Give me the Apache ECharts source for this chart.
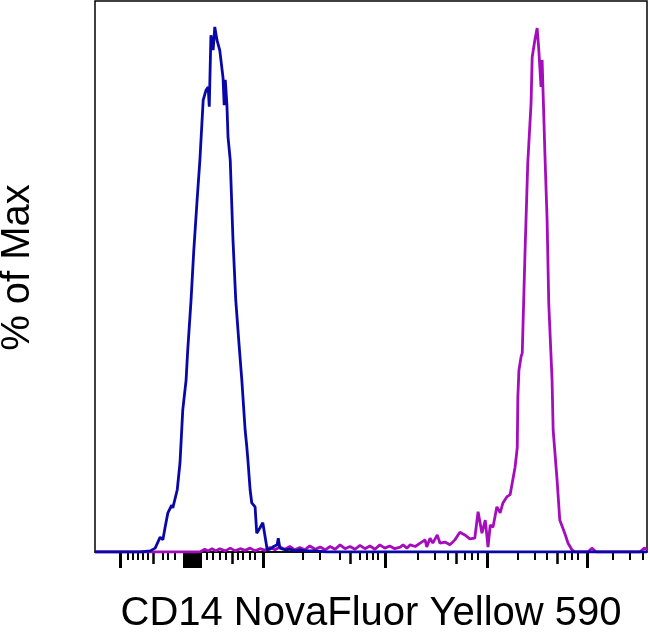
<!DOCTYPE html>
<html>
<head>
<meta charset="utf-8">
<script src="https://cdn.jsdelivr.net/npm/echarts@6/dist/echarts.min.js"></script>
<style>html,body{margin:0;padding:0;background:#fff}#c{width:650px;height:633px}</style>
</head>
<body>
<div id="c"></div>
<script>
// x in display channel units (0-1000, biexponential display scale), y in % of Max
const blueX = [0,45,82,100,109,118,123,127,132,139,141,149,154,159,165,168,174,179,185,190,196,201,205,207,210,214,217,221,226,232,234,236,239,241,245,250,255,261,266,272,275,277,281,284,290,293,299,304,312,317,322,330,332,335,344,353,362,371,380,399,420,1000];
const blueY = [0,0,0,0.2,0.7,2.7,2.2,4.5,7.1,8.5,8.0,11.3,16.2,25.8,31.2,36.7,45.7,54.8,63.9,71.1,82.0,83.8,84.4,80.8,93.8,91.1,95.3,92.9,91.1,86.0,81.1,85.7,81.1,75.3,71.1,56.6,45.7,37.6,31.2,22.1,19.1,16.7,11.3,8.9,8.2,3.4,4.4,5.3,0.4,0.5,0.9,1.3,2.5,0.7,0.4,0.5,0.2,0.4,0.2,0.2,0,0];

const magX = [0,190,199,205,212,219,226,236,245,254,263,272,281,290,299,308,317,326,335,344,353,362,371,380,389,399,408,417,426,435,444,453,462,471,480,489,498,507,516,525,534,543,553,558,565,571,580,589,598,601,607,612,620,625,634,643,652,661,670,679,688,694,701,707,712,716,721,728,734,739,746,752,761,765,766,768,772,774,779,784,790,792,797,801,804,808,810,812,815,819,822,828,830,837,842,851,857,864,870,893,900,908,987,995,1000];
const magY = [0,0,0.5,0.2,0.6,0.2,0.6,0.2,0.7,0.2,0.6,0.3,0.7,0.2,0.6,0.3,0.8,0.4,0.9,0.5,1.0,0.4,0.8,0.4,1.1,0.5,0.9,0.4,1.0,0.5,1.3,0.6,1.0,0.5,1.2,0.6,1.1,0.5,1.3,0.7,1.1,0.6,0.9,1.3,0.7,1.3,1.0,1.6,2.2,0.9,2.5,1.6,3.1,1.6,1.8,1.3,2.2,3.6,3.1,2.4,2.5,7.3,3.4,5.8,0.9,4.9,4.5,8.2,7.1,8.9,10.0,10.4,15.4,19.0,28.0,33.0,35.5,36.1,54.3,70.6,81.5,89.8,93.0,95.1,91.1,84.4,89.3,82.6,72.4,60.3,45.2,31.2,22.1,13.2,5.8,3.4,1.6,0.4,0,0,0.7,0,0,0.7,0.5];

// tick positions on the display scale
const majorTicks = [45,161,166,171,176,181,186,191,304,525,710,891];
const mediumTicks = [105,248,462,654,837];
const minorTicks = [60,69,78,87,96,123,132,145,203,214,226,236,259,268,281,290,377,408,444,480,493,504,513,585,616,639,670,683,694,765,797,819,851,864,875,938,969,993];

const xTitle = 'CD14 NovaFluor Yellow 590';
const yTitle = '% of Max';

const zip = (xs, ys) => xs.map((x, i) => [x, ys[i]]);
const FONT = 'Liberation Sans, Arial, sans-serif';

function tickAxis(values, len, width, showLine, name) {
  return {
    type: 'value', min: 0, max: 1000, position: 'bottom', offset: 0,
    name: name || '', nameLocation: 'middle', nameGap: 42,
    nameTextStyle: { fontFamily: FONT, fontSize: 40, color: '#000' },
    axisLine: { show: showLine, lineStyle: { color: '#000', width: 1.5 } },
    axisTick: { show: true, inside: false, length: len, customValues: values, lineStyle: { color: '#000', width: width } },
    axisLabel: { show: false },
    splitLine: { show: false }
  };
}

const chart = echarts.init(document.getElementById('c'), null, { renderer: 'canvas' });
chart.setOption({
  animation: false,
  backgroundColor: '#fff',
  grid: { left: 95, right: 3, top: 1, bottom: 81, containLabel: false, outerBoundsMode: 'none', show: true, borderColor: '#000', borderWidth: 1.5, backgroundColor: 'transparent' },
  xAxis: [
    tickAxis(majorTicks, 16, 3, true, xTitle),
    tickAxis(mediumTicks, 12, 2.5, false),
    tickAxis(minorTicks, 8, 2, false)
  ],
  yAxis: {
    type: 'value', min: 0, max: 100,
    name: yTitle, nameLocation: 'middle', nameGap: 57,
    nameTextStyle: { fontFamily: FONT, fontSize: 40, color: '#000', padding: [0, 0, 0, 18] },
    axisLine: { show: false }, axisTick: { show: false }, axisLabel: { show: false }, splitLine: { show: false }
  },
  series: [
    { type: 'line', xAxisIndex: 0, data: zip(magX, magY), showSymbol: false, lineStyle: { color: '#A40CBC', width: 2.8 }, itemStyle: { color: '#A40CBC' } },
    { type: 'line', xAxisIndex: 0, data: zip(blueX, blueY), showSymbol: false, lineStyle: { color: '#0808A8', width: 2.8 }, itemStyle: { color: '#0808A8' } }
  ]
});
</script>
</body>
</html>
